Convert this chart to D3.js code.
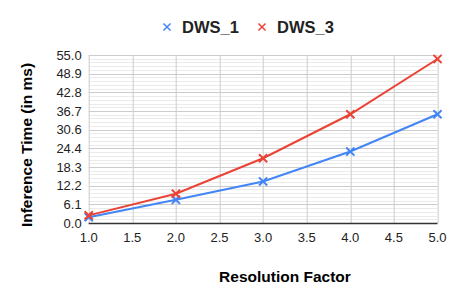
<!DOCTYPE html>
<html>
<head>
<meta charset="utf-8">
<script src="https://cdn.jsdelivr.net/npm/d3@7"></script>
<style>
  body { margin: 0; background: #fff; }
  text { font-family: "Liberation Sans", Arial, sans-serif; }
</style>
</head>
<body>
<svg id="chart" width="452" height="302"></svg>
<script>
// Chart data
const factors = [1, 2, 3, 4, 5];
const dws1 = [1.9, 7.6, 13.6, 23.4, 35.6];
const dws3 = [2.5, 9.6, 21.2, 35.6, 53.7];
const seriesNames = ["DWS_1", "DWS_3"];
const seriesColors = ["#4285f4", "#ea4335"];
const yTicks = [0, 6.1, 12.2, 18.3, 24.4, 30.6, 36.7, 42.8, 48.9, 55.0];
const xTicks = [1, 1.5, 2, 2.5, 3, 3.5, 4, 4.5, 5];

const svg = d3.select("#chart");
const margin = { top: 55, right: 14.5, bottom: 79, left: 88.7 };
const width = 452 - margin.left - margin.right;
const height = 302 - margin.top - margin.bottom;

const x = d3.scaleLinear().domain([1, 5]).range([0, width]);
const y = d3.scaleLinear().domain([0, 55]).range([height, 0]);

const g = svg.append("g").attr("transform", `translate(${margin.left},${margin.top})`);

// minor horizontal grid (4 between each major)
const minor = [];
for (let i = 0; i < 9; i++) {
    for (let k = 1; k < 5; k++) minor.push((55 / 9) * (i + k / 5));
}
g.selectAll(".minor")
    .data(minor)
    .enter().append("line")
    .attr("x1", 0).attr("x2", width)
    .attr("y1", d => Math.round(y(d)) + 0.5)
    .attr("y2", d => Math.round(y(d)) + 0.5)
    .attr("stroke", "#ebebeb").attr("stroke-width", 1);

// major horizontal grid
g.selectAll(".major")
    .data(yTicks.map((d, i) => i * 55 / 9))
    .enter().append("line")
    .attr("x1", 0).attr("x2", width)
    .attr("y1", d => Math.round(y(d)) + 0.5)
    .attr("y2", d => Math.round(y(d)) + 0.5)
    .attr("stroke", "#cccccc").attr("stroke-width", 1);

// vertical grid
g.selectAll(".vgrid")
    .data(xTicks)
    .enter().append("line")
    .attr("x1", d => Math.round(x(d)) + 0.5)
    .attr("x2", d => Math.round(x(d)) + 0.5)
    .attr("y1", 0).attr("y2", height)
    .attr("stroke", "#cccccc").attr("stroke-width", 1);

// bottom axis line
g.append("line")
    .attr("x1", 0).attr("x2", width)
    .attr("y1", height + 0.5).attr("y2", height + 0.5)
    .attr("stroke", "#333").attr("stroke-width", 1.3);

// y tick labels
g.selectAll(".ylab")
    .data(yTicks)
    .enter().append("text")
    .attr("x", -7)
    .attr("y", (d, i) => y(i * 55 / 9))
    .attr("dy", "0.35em")
    .attr("text-anchor", "end")
    .style("font-size", "13px")
    .style("fill", "#222")
    .text(d => d.toFixed(1));

// x tick labels
g.selectAll(".xlab")
    .data(xTicks)
    .enter().append("text")
    .attr("x", d => x(d))
    .attr("y", height + 19)
    .attr("text-anchor", "middle")
    .style("font-size", "13px")
    .style("fill", "#222")
    .text(d => d.toFixed(1));

// lines and markers
const line = d3.line().x((d, i) => x(factors[i])).y(d => y(d));
const cross = d3.symbol().type(d3.symbolX).size(45);

[dws1, dws3].forEach((vals, s) => {
    g.append("path")
        .datum(vals)
        .attr("d", line)
        .attr("fill", "none")
        .attr("stroke", seriesColors[s])
        .attr("stroke-width", 2);

    g.selectAll(".m" + s)
        .data(vals)
        .enter().append("path")
        .attr("transform", (d, i) => `translate(${x(factors[i])},${y(d)})`)
        .attr("d", cross)
        .attr("fill", "none")
        .attr("stroke", seriesColors[s])
        .attr("stroke-width", 2);
});

// legend
const legendX = [167, 262];
seriesNames.forEach((name, s) => {
    svg.append("path")
        .attr("transform", `translate(${legendX[s]},27)`)
        .attr("d", d3.symbol().type(d3.symbolX).size(35)())
        .attr("fill", "none")
        .attr("stroke", seriesColors[s])
        .attr("stroke-width", 1.5);
    svg.append("text")
        .attr("x", legendX[s] + 15)
        .attr("y", 33)
        .style("font-size", "16.5px")
        .style("font-weight", "bold")
        .style("fill", "#222")
        .text(name);
});

// axis titles
svg.append("text")
    .attr("x", 285)
    .attr("y", 282)
    .attr("text-anchor", "middle")
    .style("font-size", "15.5px")
    .style("font-weight", "bold")
    .style("fill", "#000")
    .text("Resolution Factor");

svg.append("text")
    .attr("transform", "translate(32,145) rotate(-90)")
    .attr("text-anchor", "middle")
    .style("font-size", "15.5px")
    .style("font-weight", "bold")
    .style("fill", "#000")
    .text("Inference Time (in ms)");
</script>
</body>
</html>
